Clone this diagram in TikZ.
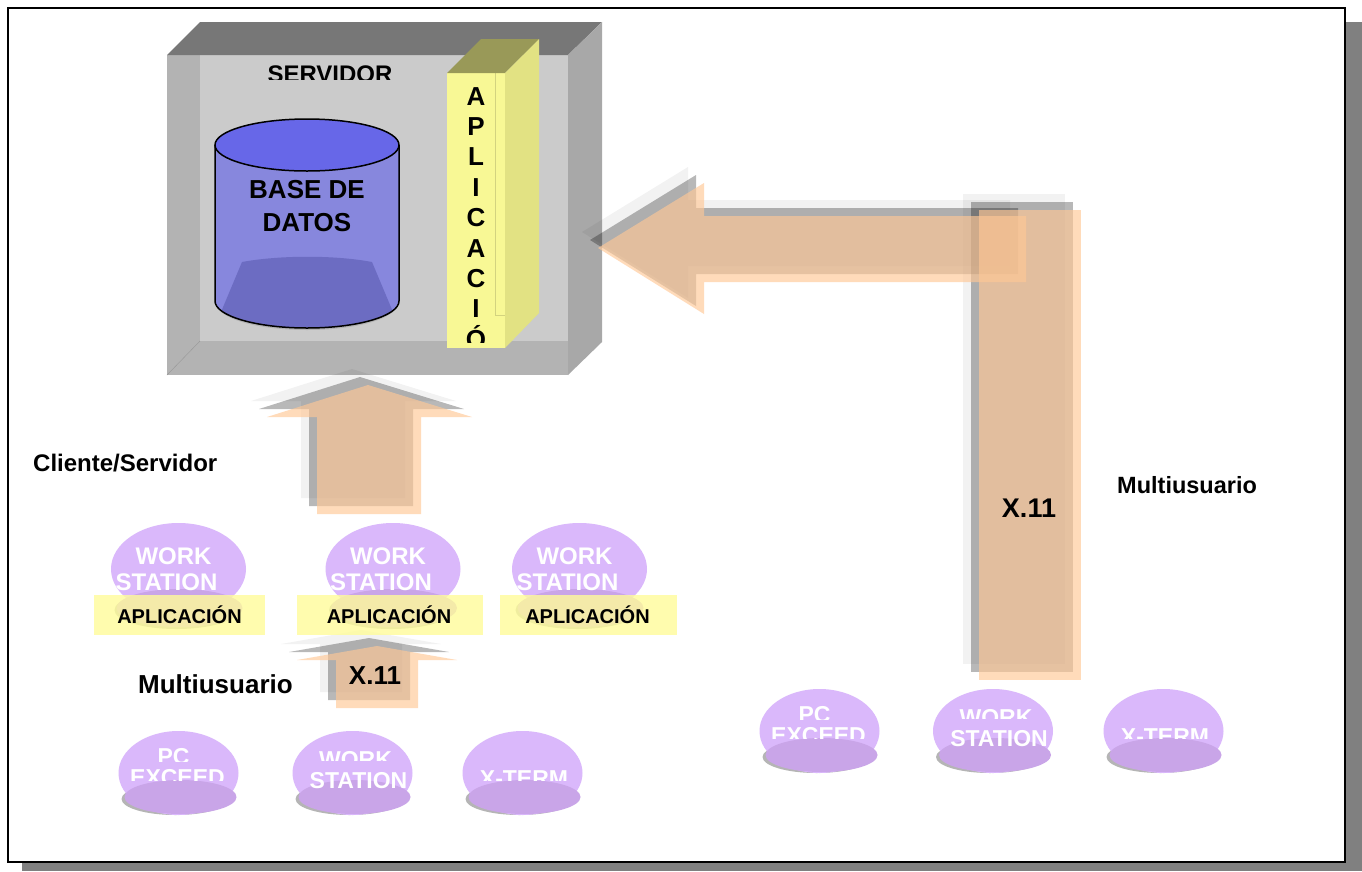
\documentclass[tikz,border=0pt]{standalone}
\usepackage{fontspec}
\setmainfont{Liberation Sans}

\definecolor{pageshadow}{HTML}{808080}
\definecolor{boxtop}{HTML}{777777}
\definecolor{boxside}{HTML}{A8A8A8}
\definecolor{boxrim}{HTML}{B3B3B3}
\definecolor{boxwall}{HTML}{CBCBCB}
\definecolor{dbcap}{HTML}{6767E8}
\definecolor{dbside}{HTML}{8787DD}
\definecolor{dbdeep}{HTML}{6C6CC2}
\definecolor{appfront}{HTML}{F8F895}
\definecolor{apptop}{HTML}{999958}
\definecolor{appside}{HTML}{E2E283}
\definecolor{flow}{RGB}{255,200,150}
\definecolor{hostlight}{HTML}{DAB8FB}
\definecolor{hostdisc}{HTML}{C9A5E8}
\definecolor{discshadow}{HTML}{B5B5B5}
\definecolor{tag}{HTML}{FFFC9A}

% host with a flat disc and its shadow underneath
\newcommand{\devbase}[2]{%
  \fill[discshadow] ({#1-3},{#2+26}) ellipse [x radius=54,y radius=16];
  \fill[hostlight] (#1,#2) ellipse [x radius=60,y radius=42];
  \fill[hostdisc] ({#1+2},{#2+24}) ellipse [x radius=56,y radius=17];
}
% one text line of a host, cut off at a given depth
% #1 name, #2 cx, #3 cy, #4 dx, #5 baseline dy, #6 cut dy, #7 text
\newcommand{\cutline}[7]{%
  \begin{scope}
    \clip (#2,#3) ellipse [x radius=60,y radius=42];
    \clip ({#2-70},{#3-45}) rectangle ({#2+70},{#3+(#6)});
    \node[devtext,anchor=base] (#1) at ({#2+(#4)},{#3+(#5)}) {#7};
  \end{scope}}
\newcommand{\pcexceed}[3]{%
  \devbase{#2}{#3}
  \cutline{#1a}{#2}{#3}{-5}{-8.5}{-12}{PC}
  \cutline{#1b}{#2}{#3}{-1}{12.5}{7}{EXCEED}}
\newcommand{\wsdevice}[3]{%
  \devbase{#2}{#3}
  \cutline{#1a}{#2}{#3}{3}{-5.5}{-13}{WORK}
  \cutline{#1b}{#2}{#3}{6}{15.5}{30}{STATION}}
\newcommand{\xtermdev}[3]{%
  \devbase{#2}{#3}
  \cutline{#1a}{#2}{#3}{1.5}{13.5}{7}{X-TERM}}
% workstation of the client/server row
\newcommand{\topstation}[2]{%
  \fill[discshadow] ({#2-2},610) ellipse [x radius=62,y radius=19];
  \fill[hostlight] (#2,569) ellipse [x radius=67.5,y radius=46];
  \fill[hostdisc] ({#2+1},608) ellipse [x radius=63,y radius=19];
  \node[lbl=24,text=white,anchor=base] (#1a) at ({#2-5},564) {WORK};
  \node[lbl=24,text=white,anchor=base] (#1b) at ({#2-12},590) {STATION};}

\begin{document}
\begin{tikzpicture}[x=1pt,y=-1pt,
  lbl/.style={inner sep=0pt,font=\bfseries\fontsize{#1}{#1}\selectfont},
  devtext/.style={inner sep=0pt,text=white,font=\bfseries\fontsize{23}{23}\selectfont},
  layerA/.style={fill=black,fill opacity=0.05},
  layerB/.style={fill=black,fill opacity=0.28},
  layerC/.style={fill=flow,fill opacity=0.65},
  tagbox/.style={fill=tag,fill opacity=0.8}]
\useasboundingbox (0,0) rectangle (1362,871);

% page with drop shadow
\fill[pageshadow] (22,22) rectangle (1362,871);
\filldraw[fill=white,draw=black,line width=1.5pt] (8,8) rectangle (1345,862);

% server cabinet
\fill[boxrim] (167,55) rectangle (568,375);
\fill[boxwall] (200,55) rectangle (568,341);
\draw[boxside!90!black,line width=0.4pt] (167,375) -- (200,341);
\fill[boxtop] (167,55) -- (200,22) -- (602,22) -- (568,55) -- cycle;
\fill[boxside] (568,55) -- (602,22) -- (602,342) -- (568,375) -- cycle;
\begin{scope}
  \clip (200,55) rectangle (568,79);
  \node[lbl=24,anchor=base] (srvlabel) at (330,82) {SERVIDOR};
\end{scope}

% database cylinder
\fill[black!30] (307,304) ellipse [x radius=90,y radius=26];
\fill[dbside] (215,145) -- (215,301) arc[start angle=180,end angle=0,x radius=92,y radius=27] -- (399,145) -- cycle;
\begin{scope}
  \clip (215,145) -- (215,301) arc[start angle=180,end angle=0,x radius=92,y radius=27] -- (399,145) -- cycle;
  \fill[dbdeep] (221,312) -- (242,262) .. controls (280,255) and (335,255) .. (372,262) -- (393,312) -- (400,340) -- (214,340) -- cycle;
\end{scope}
\draw[line width=1.5pt] (215,145) -- (215,301) arc[start angle=180,end angle=0,x radius=92,y radius=27] -- (399,145);
\filldraw[fill=dbcap,draw=black,line width=1.5pt] (307,145) ellipse [x radius=92,y radius=26];
\node[lbl=26,anchor=base] (db1) at (307,198) {BASE DE};
\node[lbl=26,anchor=base] (db2) at (307,231) {DATOS};

% application column
\fill[appfront] (447,73) rectangle (505,348);
\draw[appfront!85!black,line width=0.3pt] (495,73) -- (495,315) -- (505,315);
\fill[apptop] (447,73) -- (481,39) -- (539,39) -- (505,73) -- cycle;
\fill[appside] (505,73) -- (539,39) -- (539,313) -- (505,348) -- cycle;
\begin{scope}
  \clip (447,73) rectangle (505,342);
  \foreach \ch [count=\k] in {A,P,L,I,C,A,C,I,Ó}
    \node[lbl=26,anchor=base] (col\k) at (476,{105+30.4*(\k-1)}) {\ch};
\end{scope}

% flow arrows: pale shadow, grey shadow, peach body
\foreach \d/\s in {16/layerA,8/layerB,0/layerC}{
  \fill[\s,shift={(-\d,-\d)}] (368,385) -- (472,417) -- (421,417) -- (421,514)
     -- (317,514) -- (317,417) -- (267,417) -- cycle;
  \fill[\s,shift={(-\d,-\d)}] (979,210) rectangle (1081,680);
  \fill[\s,shift={(-\d,-\d)}] (598,248) -- (704,183) -- (704,216) -- (1026,216)
     -- (1026,282) -- (704,282) -- (704,314) -- cycle;
}
\node[lbl=27,anchor=base] (x11b) at (1029,517) {X.11};

% client/server workstations
\topstation{wsA}{178.5}
\topstation{wsB}{393}
\topstation{wsC}{579.5}

% small X.11 arrow
\foreach \d/\s in {16/layerA,8/layerB,0/layerC}{
  \fill[\s,shift={(-\d,-\d)}] (377,646) -- (457,660) -- (418,660) -- (418,708)
     -- (336,708) -- (336,660) -- (297,660) -- cycle;
}
\node[lbl=26,anchor=base] (x11a) at (375,684) {X.11};

% application tags
\fill[tagbox] (94,595) rectangle (265,635);
\fill[tagbox] (297,595) rectangle (483,635);
\fill[tagbox] (500,595) rectangle (677,635);
\node[lbl=20,anchor=base] (appA) at (179.5,623) {APLICACIÓN};
\node[lbl=20,anchor=base] (appB) at (389,623) {APLICACIÓN};
\node[lbl=20,anchor=base] (appC) at (587.5,623) {APLICACIÓN};

% terminals
\pcexceed{pcL}{178.5}{773}
\wsdevice{wsL}{352.5}{773}
\xtermdev{xtL}{522.5}{773}
\pcexceed{pcR}{819.5}{731}
\wsdevice{wsR}{993}{731}
\xtermdev{xtR}{1163.5}{731}

% captions
\node[lbl=24,anchor=base west] (cs) at (33,471) {Cliente/Servidor};
\node[lbl=26,anchor=base west] (muL) at (138,693) {Multiusuario};
\node[lbl=23.5,anchor=base west] (muR) at (1117,493) {Multiusuario};
\end{tikzpicture}
\end{document}
